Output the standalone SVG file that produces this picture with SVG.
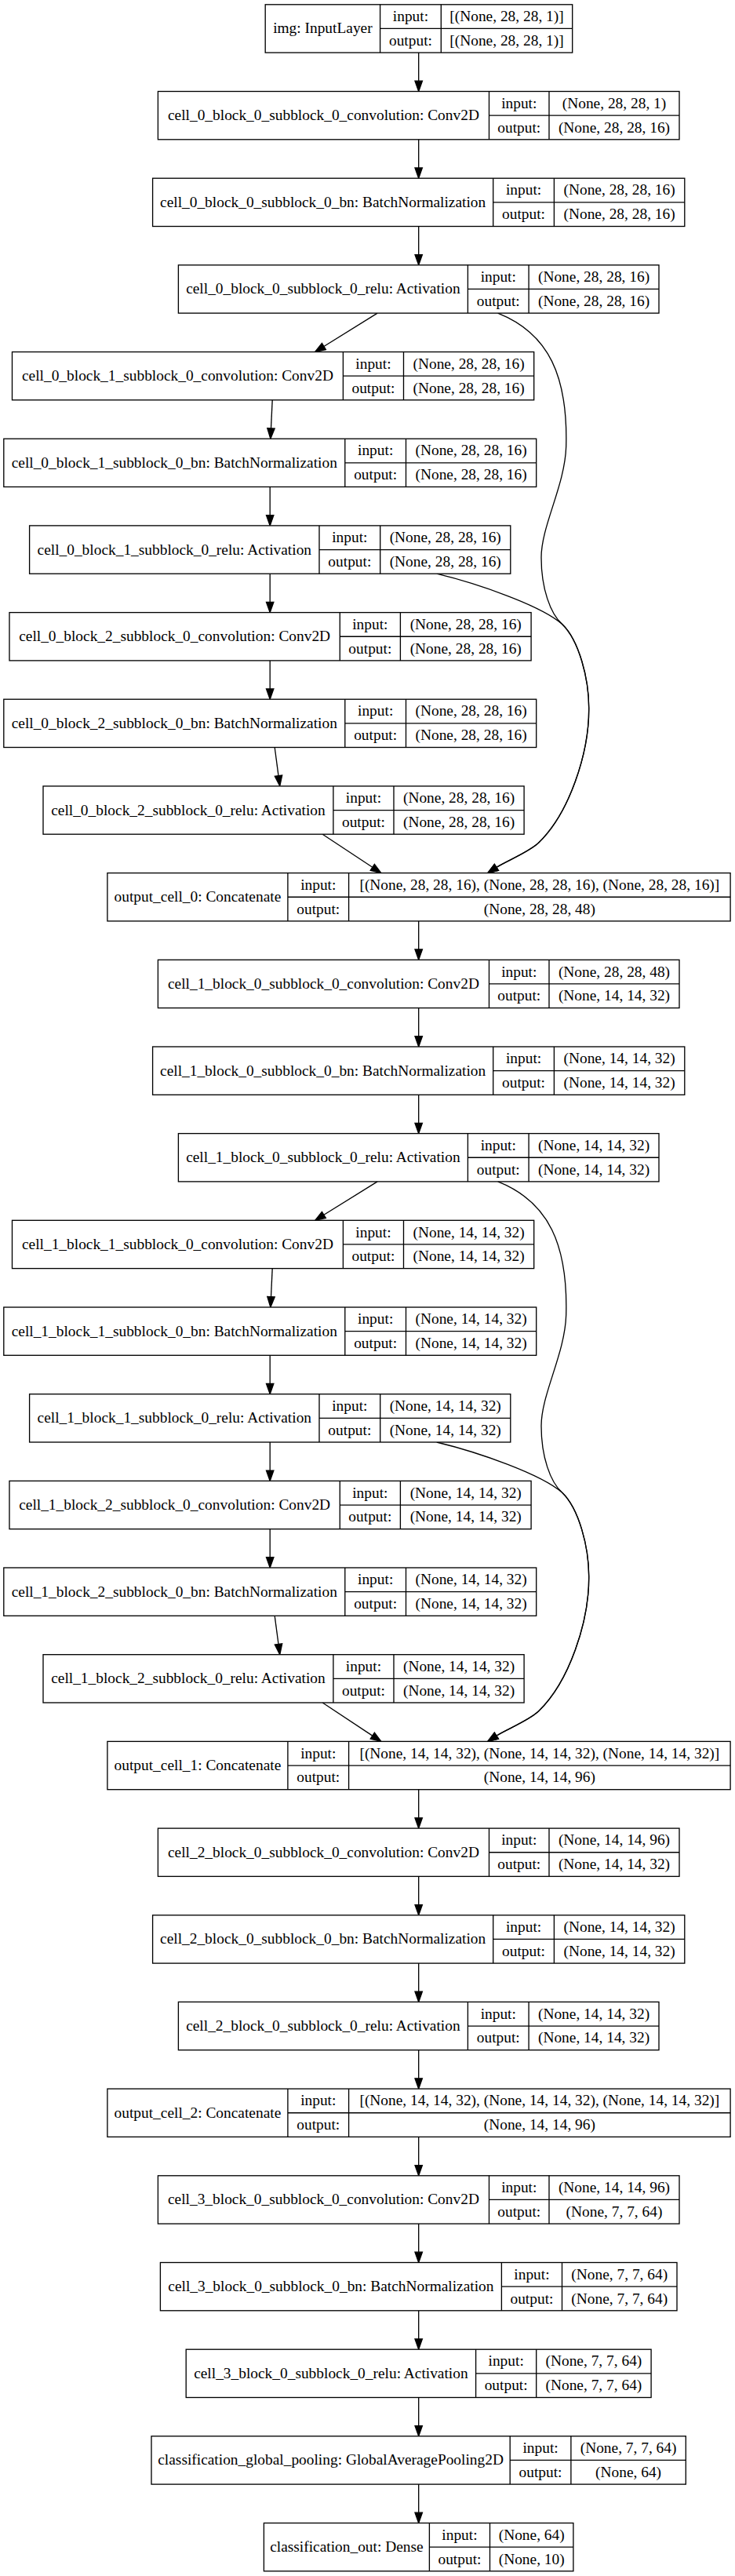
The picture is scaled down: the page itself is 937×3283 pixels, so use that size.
<svg xmlns="http://www.w3.org/2000/svg" width="937" height="3283" viewBox="0 0 937 3283">
<style>
.n rect{fill:#fff;stroke:#000;stroke-width:1.33}
.n path{fill:none;stroke:#000;stroke-width:1.33}
text{font-family:"Liberation Serif","Times New Roman",serif;font-size:19.4px;text-anchor:middle;fill:#000}
.e path{fill:none;stroke:#000;stroke-width:1.33;marker-end:url(#ah)}
</style>
<defs>
<marker id="ah" markerUnits="userSpaceOnUse" markerWidth="16" markerHeight="12" viewBox="0 0 16 12" refX="1" refY="6" orient="auto"><path d="M1,1.3L14.3,6L1,10.7Z" fill="#000" stroke="#000" stroke-width="1.33"/></marker>
</defs>
<rect width="937" height="3283" fill="#fff"/>
<g id="edges" class="e">
<path d="M533.7,67.1V103.2"/>
<path d="M533.7,177.8V213.9"/>
<path d="M533.7,288.5V324.5"/>
<path d="M533.7,1173.9V1210"/>
<path d="M533.7,1284.6V1320.7"/>
<path d="M533.7,1395.3V1431.3"/>
<path d="M533.7,2280.7V2316.8"/>
<path d="M533.7,2391.4V2427.5"/>
<path d="M533.7,2502.1V2538.1"/>
<path d="M533.7,2612.7V2648.8"/>
<path d="M533.7,2723.4V2759.5"/>
<path d="M533.7,2834.1V2870.2"/>
<path d="M533.7,2944.8V2980.9"/>
<path d="M533.7,3055.5V3091.5"/>
<path d="M533.7,3166.1V3202.2"/>
<g id="cell0_edges">
<path d="M481.1,399.1L412.9,441.5"/>
<path d="M347.2,509.8L345.5,545.9"/>
<path d="M344.2,620.5V656.6"/>
<path d="M344.2,731.2V767.3"/>
<path d="M344.2,841.9V877.9"/>
<path d="M350.2,952.5L355,988.7"/>
<path d="M411.2,1063.2L474.8,1105.3"/>
<path d="M556.7,731.2C610,744 690,772 716.7,795.5C738,816 751,865 750.7,904C750.7,960 726,1036 686.7,1074C673.7,1086.4 645.5,1097.2 632.9,1105.4"/>
<path d="M634.7,399.1C700,425 724,480 721.7,569C720.2,619 690,670 690,710.5C690,750 701.7,782.3 716.7,795.5C738,816 751,865 750.7,904C750.7,960 726,1036 686.7,1074C673.7,1086.4 645.5,1097.2 632.9,1105.4"/>
</g>
<g id="cell1_edges" transform="translate(0,1106.8)">
<path d="M481.1,399.1L412.9,441.5"/>
<path d="M347.2,509.8L345.5,545.9"/>
<path d="M344.2,620.5V656.6"/>
<path d="M344.2,731.2V767.3"/>
<path d="M344.2,841.9V877.9"/>
<path d="M350.2,952.5L355,988.7"/>
<path d="M411.2,1063.2L474.8,1105.3"/>
<path d="M556.7,731.2C610,744 690,772 716.7,795.5C738,816 751,865 750.7,904C750.7,960 726,1036 686.7,1074C673.7,1086.4 645.5,1097.2 632.9,1105.4"/>
<path d="M634.7,399.1C700,425 724,480 721.7,569C720.2,619 690,670 690,710.5C690,750 701.7,782.3 716.7,795.5C738,816 751,865 750.7,904C750.7,960 726,1036 686.7,1074C673.7,1086.4 645.5,1097.2 632.9,1105.4"/>
</g>
</g>

<g id="img" class="n" transform="translate(0,5.8)"><rect x="338.2" y="0" width="391.5" height="61.3"/><path d="M484.6,0V61.3M562.3,0V61.3M484.6,30.65H729.7"/><text x="411.4" y="36.7">img: InputLayer</text><text x="523.45" y="21.3">input:</text><text x="523.45" y="52">output:</text><text x="646" y="21.3">[(None, 28, 28, 1)]</text><text x="646" y="52">[(None, 28, 28, 1)]</text></g>

<g id="cell_0_block_0_subblock_0_convolution" class="n" transform="translate(0,116.5)"><rect x="201.4" y="0" width="664.6" height="61.3"/><path d="M623.5,0V61.3M700,0V61.3M623.5,30.65H866"/><text x="412.45" y="36.7">cell_0_block_0_subblock_0_convolution: Conv2D</text><text x="661.75" y="21.3">input:</text><text x="661.75" y="52">output:</text><text x="783" y="21.3">(None, 28, 28, 1)</text><text x="783" y="52">(None, 28, 28, 16)</text></g>
<g id="cell_0_block_0_subblock_0_bn" class="n" transform="translate(0,227.2)"><rect x="194.6" y="0" width="678.2" height="61.3"/><path d="M628.7,0V61.3M706.4,0V61.3M628.7,30.65H872.8"/><text x="411.65" y="36.7">cell_0_block_0_subblock_0_bn: BatchNormalization</text><text x="667.55" y="21.3">input:</text><text x="667.55" y="52">output:</text><text x="789.6" y="21.3">(None, 28, 28, 16)</text><text x="789.6" y="52">(None, 28, 28, 16)</text></g>
<g id="cell_0_block_0_subblock_0_relu" class="n" transform="translate(0,337.8)"><rect x="227.4" y="0" width="612.6" height="61.3"/><path d="M596.4,0V61.3M674.1,0V61.3M596.4,30.65H840"/><text x="411.9" y="36.7">cell_0_block_0_subblock_0_relu: Activation</text><text x="635.25" y="21.3">input:</text><text x="635.25" y="52">output:</text><text x="757.05" y="21.3">(None, 28, 28, 16)</text><text x="757.05" y="52">(None, 28, 28, 16)</text></g>
<g id="cell_0_block_1_subblock_0_convolution" class="n" transform="translate(0,448.5)"><rect x="15.5" y="0" width="665.2" height="61.3"/><path d="M437.4,0V61.3M514.5,0V61.3M437.4,30.65H680.7"/><text x="226.45" y="36.7">cell_0_block_1_subblock_0_convolution: Conv2D</text><text x="475.95" y="21.3">input:</text><text x="475.95" y="52">output:</text><text x="597.6" y="21.3">(None, 28, 28, 16)</text><text x="597.6" y="52">(None, 28, 28, 16)</text></g>
<g id="cell_0_block_1_subblock_0_bn" class="n" transform="translate(0,559.2)"><rect x="4.8" y="0" width="678.9" height="61.3"/><path d="M439.8,0V61.3M517.5,0V61.3M439.8,30.65H683.7"/><text x="222.3" y="36.7">cell_0_block_1_subblock_0_bn: BatchNormalization</text><text x="478.65" y="21.3">input:</text><text x="478.65" y="52">output:</text><text x="600.6" y="21.3">(None, 28, 28, 16)</text><text x="600.6" y="52">(None, 28, 28, 16)</text></g>
<g id="cell_0_block_1_subblock_0_relu" class="n" transform="translate(0,669.9)"><rect x="37.6" y="0" width="613.2" height="61.3"/><path d="M407,0V61.3M484.7,0V61.3M407,30.65H650.8"/><text x="222.3" y="36.7">cell_0_block_1_subblock_0_relu: Activation</text><text x="445.85" y="21.3">input:</text><text x="445.85" y="52">output:</text><text x="567.75" y="21.3">(None, 28, 28, 16)</text><text x="567.75" y="52">(None, 28, 28, 16)</text></g>
<g id="cell_0_block_2_subblock_0_convolution" class="n" transform="translate(0,780.6)"><rect x="12" y="0" width="665.1" height="61.3"/><path d="M433.3,0V61.3M510.4,0V61.3M433.3,30.65H677.1"/><text x="222.65" y="36.7">cell_0_block_2_subblock_0_convolution: Conv2D</text><text x="471.85" y="21.3">input:</text><text x="471.85" y="52">output:</text><text x="593.75" y="21.3">(None, 28, 28, 16)</text><text x="593.75" y="52">(None, 28, 28, 16)</text></g>
<g id="cell_0_block_2_subblock_0_bn" class="n" transform="translate(0,891.2)"><rect x="4.8" y="0" width="678.9" height="61.3"/><path d="M439.8,0V61.3M517.5,0V61.3M439.8,30.65H683.7"/><text x="222.3" y="36.7">cell_0_block_2_subblock_0_bn: BatchNormalization</text><text x="478.65" y="21.3">input:</text><text x="478.65" y="52">output:</text><text x="600.6" y="21.3">(None, 28, 28, 16)</text><text x="600.6" y="52">(None, 28, 28, 16)</text></g>
<g id="cell_0_block_2_subblock_0_relu" class="n" transform="translate(0,1001.9)"><rect x="55" y="0" width="613.1" height="61.3"/><path d="M424.9,0V61.3M502,0V61.3M424.9,30.65H668.1"/><text x="239.95" y="36.7">cell_0_block_2_subblock_0_relu: Activation</text><text x="463.45" y="21.3">input:</text><text x="463.45" y="52">output:</text><text x="585.05" y="21.3">(None, 28, 28, 16)</text><text x="585.05" y="52">(None, 28, 28, 16)</text></g>
<g id="output_cell_0" class="n" transform="translate(0,1112.6)"><rect x="136.9" y="0" width="794.2" height="61.3"/><path d="M366.9,0V61.3M444.6,0V61.3M366.9,30.65H931.1"/><text x="251.9" y="36.7">output_cell_0: Concatenate</text><text x="405.75" y="21.3">input:</text><text x="405.75" y="52">output:</text><text x="687.85" y="21.3">[(None, 28, 28, 16), (None, 28, 28, 16), (None, 28, 28, 16)]</text><text x="687.85" y="52">(None, 28, 28, 48)</text></g>

<g id="cell_1_block_0_subblock_0_convolution" class="n" transform="translate(0,1223.3)"><rect x="201.4" y="0" width="664.6" height="61.3"/><path d="M623.5,0V61.3M700,0V61.3M623.5,30.65H866"/><text x="412.45" y="36.7">cell_1_block_0_subblock_0_convolution: Conv2D</text><text x="661.75" y="21.3">input:</text><text x="661.75" y="52">output:</text><text x="783" y="21.3">(None, 28, 28, 48)</text><text x="783" y="52">(None, 14, 14, 32)</text></g>
<g id="cell_1_block_0_subblock_0_bn" class="n" transform="translate(0,1334)"><rect x="194.6" y="0" width="678.2" height="61.3"/><path d="M628.7,0V61.3M706.4,0V61.3M628.7,30.65H872.8"/><text x="411.65" y="36.7">cell_1_block_0_subblock_0_bn: BatchNormalization</text><text x="667.55" y="21.3">input:</text><text x="667.55" y="52">output:</text><text x="789.6" y="21.3">(None, 14, 14, 32)</text><text x="789.6" y="52">(None, 14, 14, 32)</text></g>
<g id="cell_1_block_0_subblock_0_relu" class="n" transform="translate(0,1444.6)"><rect x="227.4" y="0" width="612.6" height="61.3"/><path d="M596.4,0V61.3M674.1,0V61.3M596.4,30.65H840"/><text x="411.9" y="36.7">cell_1_block_0_subblock_0_relu: Activation</text><text x="635.25" y="21.3">input:</text><text x="635.25" y="52">output:</text><text x="757.05" y="21.3">(None, 14, 14, 32)</text><text x="757.05" y="52">(None, 14, 14, 32)</text></g>
<g id="cell_1_block_1_subblock_0_convolution" class="n" transform="translate(0,1555.3)"><rect x="15.5" y="0" width="665.2" height="61.3"/><path d="M437.4,0V61.3M514.5,0V61.3M437.4,30.65H680.7"/><text x="226.45" y="36.7">cell_1_block_1_subblock_0_convolution: Conv2D</text><text x="475.95" y="21.3">input:</text><text x="475.95" y="52">output:</text><text x="597.6" y="21.3">(None, 14, 14, 32)</text><text x="597.6" y="52">(None, 14, 14, 32)</text></g>
<g id="cell_1_block_1_subblock_0_bn" class="n" transform="translate(0,1666)"><rect x="4.8" y="0" width="678.9" height="61.3"/><path d="M439.8,0V61.3M517.5,0V61.3M439.8,30.65H683.7"/><text x="222.3" y="36.7">cell_1_block_1_subblock_0_bn: BatchNormalization</text><text x="478.65" y="21.3">input:</text><text x="478.65" y="52">output:</text><text x="600.6" y="21.3">(None, 14, 14, 32)</text><text x="600.6" y="52">(None, 14, 14, 32)</text></g>
<g id="cell_1_block_1_subblock_0_relu" class="n" transform="translate(0,1776.7)"><rect x="37.6" y="0" width="613.2" height="61.3"/><path d="M407,0V61.3M484.7,0V61.3M407,30.65H650.8"/><text x="222.3" y="36.7">cell_1_block_1_subblock_0_relu: Activation</text><text x="445.85" y="21.3">input:</text><text x="445.85" y="52">output:</text><text x="567.75" y="21.3">(None, 14, 14, 32)</text><text x="567.75" y="52">(None, 14, 14, 32)</text></g>
<g id="cell_1_block_2_subblock_0_convolution" class="n" transform="translate(0,1887.4)"><rect x="12" y="0" width="665.1" height="61.3"/><path d="M433.3,0V61.3M510.4,0V61.3M433.3,30.65H677.1"/><text x="222.65" y="36.7">cell_1_block_2_subblock_0_convolution: Conv2D</text><text x="471.85" y="21.3">input:</text><text x="471.85" y="52">output:</text><text x="593.75" y="21.3">(None, 14, 14, 32)</text><text x="593.75" y="52">(None, 14, 14, 32)</text></g>
<g id="cell_1_block_2_subblock_0_bn" class="n" transform="translate(0,1998)"><rect x="4.8" y="0" width="678.9" height="61.3"/><path d="M439.8,0V61.3M517.5,0V61.3M439.8,30.65H683.7"/><text x="222.3" y="36.7">cell_1_block_2_subblock_0_bn: BatchNormalization</text><text x="478.65" y="21.3">input:</text><text x="478.65" y="52">output:</text><text x="600.6" y="21.3">(None, 14, 14, 32)</text><text x="600.6" y="52">(None, 14, 14, 32)</text></g>
<g id="cell_1_block_2_subblock_0_relu" class="n" transform="translate(0,2108.7)"><rect x="55" y="0" width="613.1" height="61.3"/><path d="M424.9,0V61.3M502,0V61.3M424.9,30.65H668.1"/><text x="239.95" y="36.7">cell_1_block_2_subblock_0_relu: Activation</text><text x="463.45" y="21.3">input:</text><text x="463.45" y="52">output:</text><text x="585.05" y="21.3">(None, 14, 14, 32)</text><text x="585.05" y="52">(None, 14, 14, 32)</text></g>
<g id="output_cell_1" class="n" transform="translate(0,2219.4)"><rect x="136.9" y="0" width="794.2" height="61.3"/><path d="M366.9,0V61.3M444.6,0V61.3M366.9,30.65H931.1"/><text x="251.9" y="36.7">output_cell_1: Concatenate</text><text x="405.75" y="21.3">input:</text><text x="405.75" y="52">output:</text><text x="687.85" y="21.3">[(None, 14, 14, 32), (None, 14, 14, 32), (None, 14, 14, 32)]</text><text x="687.85" y="52">(None, 14, 14, 96)</text></g>

<g id="cell_2_block_0_subblock_0_convolution" class="n" transform="translate(0,2330.1)"><rect x="201.4" y="0" width="664.6" height="61.3"/><path d="M623.5,0V61.3M700,0V61.3M623.5,30.65H866"/><text x="412.45" y="36.7">cell_2_block_0_subblock_0_convolution: Conv2D</text><text x="661.75" y="21.3">input:</text><text x="661.75" y="52">output:</text><text x="783" y="21.3">(None, 14, 14, 96)</text><text x="783" y="52">(None, 14, 14, 32)</text></g>
<g id="cell_2_block_0_subblock_0_bn" class="n" transform="translate(0,2440.8)"><rect x="194.6" y="0" width="678.2" height="61.3"/><path d="M628.7,0V61.3M706.4,0V61.3M628.7,30.65H872.8"/><text x="411.65" y="36.7">cell_2_block_0_subblock_0_bn: BatchNormalization</text><text x="667.55" y="21.3">input:</text><text x="667.55" y="52">output:</text><text x="789.6" y="21.3">(None, 14, 14, 32)</text><text x="789.6" y="52">(None, 14, 14, 32)</text></g>
<g id="cell_2_block_0_subblock_0_relu" class="n" transform="translate(0,2551.4)"><rect x="227.4" y="0" width="612.6" height="61.3"/><path d="M596.4,0V61.3M674.1,0V61.3M596.4,30.65H840"/><text x="411.9" y="36.7">cell_2_block_0_subblock_0_relu: Activation</text><text x="635.25" y="21.3">input:</text><text x="635.25" y="52">output:</text><text x="757.05" y="21.3">(None, 14, 14, 32)</text><text x="757.05" y="52">(None, 14, 14, 32)</text></g>
<g id="output_cell_2" class="n" transform="translate(0,2662.1)"><rect x="136.9" y="0" width="794.2" height="61.3"/><path d="M366.9,0V61.3M444.6,0V61.3M366.9,30.65H931.1"/><text x="251.9" y="36.7">output_cell_2: Concatenate</text><text x="405.75" y="21.3">input:</text><text x="405.75" y="52">output:</text><text x="687.85" y="21.3">[(None, 14, 14, 32), (None, 14, 14, 32), (None, 14, 14, 32)]</text><text x="687.85" y="52">(None, 14, 14, 96)</text></g>

<g id="cell_3_block_0_subblock_0_convolution" class="n" transform="translate(0,2772.8)"><rect x="201.4" y="0" width="664.6" height="61.3"/><path d="M623.5,0V61.3M700,0V61.3M623.5,30.65H866"/><text x="412.45" y="36.7">cell_3_block_0_subblock_0_convolution: Conv2D</text><text x="661.75" y="21.3">input:</text><text x="661.75" y="52">output:</text><text x="783" y="21.3">(None, 14, 14, 96)</text><text x="783" y="52">(None, 7, 7, 64)</text></g>
<g id="cell_3_block_0_subblock_0_bn" class="n" transform="translate(0,2883.5)"><rect x="204.4" y="0" width="658.6" height="61.3"/><path d="M639.4,0V61.3M716.5,0V61.3M639.4,30.65H863"/><text x="421.9" y="36.7">cell_3_block_0_subblock_0_bn: BatchNormalization</text><text x="677.95" y="21.3">input:</text><text x="677.95" y="52">output:</text><text x="789.75" y="21.3">(None, 7, 7, 64)</text><text x="789.75" y="52">(None, 7, 7, 64)</text></g>
<g id="cell_3_block_0_subblock_0_relu" class="n" transform="translate(0,2994.2)"><rect x="237.2" y="0" width="592.9" height="61.3"/><path d="M606.6,0V61.3M683.7,0V61.3M606.6,30.65H830.1"/><text x="421.9" y="36.7">cell_3_block_0_subblock_0_relu: Activation</text><text x="645.15" y="21.3">input:</text><text x="645.15" y="52">output:</text><text x="756.9" y="21.3">(None, 7, 7, 64)</text><text x="756.9" y="52">(None, 7, 7, 64)</text></g>
<g id="classification_global_pooling" class="n" transform="translate(0,3104.8)"><rect x="193" y="0" width="681.3" height="61.3"/><path d="M650.2,0V61.3M727.9,0V61.3M650.2,30.65H874.3"/><text x="421.6" y="36.7">classification_global_pooling: GlobalAveragePooling2D</text><text x="689.05" y="21.3">input:</text><text x="689.05" y="52">output:</text><text x="801.1" y="21.3">(None, 7, 7, 64)</text><text x="801.1" y="52">(None, 64)</text></g>
<g id="classification_out" class="n" transform="translate(0,3215.5)"><rect x="336.4" y="0" width="394.5" height="61.3"/><path d="M547.4,0V61.3M624.5,0V61.3M547.4,30.65H730.9"/><text x="441.9" y="36.7">classification_out: Dense</text><text x="585.95" y="21.3">input:</text><text x="585.95" y="52">output:</text><text x="677.7" y="21.3">(None, 64)</text><text x="677.7" y="52">(None, 10)</text></g>
</svg>
